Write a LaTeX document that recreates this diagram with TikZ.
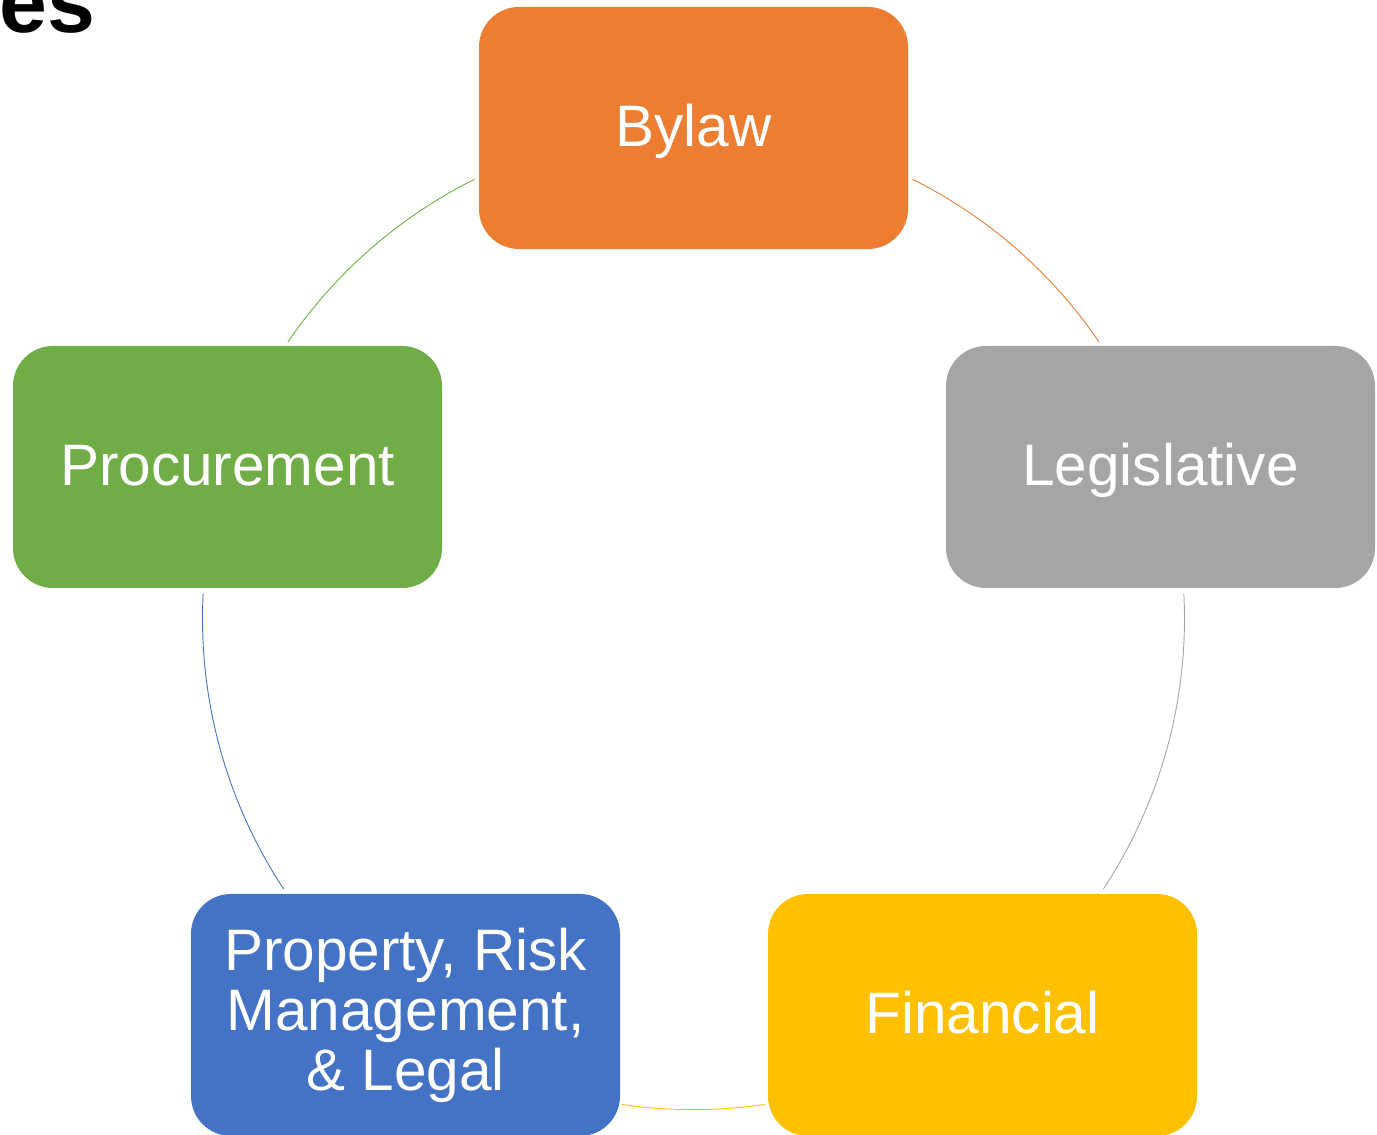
\documentclass[tikz,border=0pt]{standalone}
\usepackage{fontspec}
\setmainfont{Liberation Sans}
\definecolor{cOrange}{HTML}{ED7D31}
\definecolor{cGray}{HTML}{A5A5A5}
\definecolor{cYellow}{HTML}{FFC000}
\definecolor{cBlue}{HTML}{4472C4}
\definecolor{cGreen}{HTML}{70AD47}
\tikzset{
  cyclebox/.style={rectangle, rounded corners=40pt, minimum width=429pt, minimum height=242pt,
    inner sep=0pt, text=white, align=center, font=\fontsize{58.5}{60}\selectfont},
  oneline/.style={text height=44pt, text depth=6pt},
  link/.style={line width=0.9pt}
}
\begin{document}
\begin{tikzpicture}[x=1pt,y=1pt]
\useasboundingbox (0,0) rectangle (1377,1135);
\node[anchor=base west, inner sep=0pt, font=\fontsize{86}{86}\selectfont\bfseries] (title) at (-1,1102) {es};
\coordinate (o) at (693.5,516.3);
\node[cyclebox, oneline, fill=cOrange] (bylaw) at (693.5,1007) {Bylaw};
\node[cyclebox, oneline, fill=cGray] (legis) at (1160.5,668) {Legislative};
\node[cyclebox, oneline, fill=cYellow] (fin) at (982.5,120) {Financial};
\node[cyclebox, fill=cBlue] (prop) at (405.5,120) {Property, Risk\\Management,\\\& Legal};
\node[cyclebox, oneline, fill=cGreen] (proc) at (227.5,668) {Procurement};
\draw[link, cOrange] ([shift={(63.5:491)}]o) arc[start angle=63.5, end angle=34.3, radius=491pt];
\draw[link, cGray] ([shift={(2.9:491)}]o) arc[start angle=2.9, end angle=-33.4, radius=491pt];
\draw[link, cYellow] ([shift={(-81.6:491)}]o) arc[start angle=-81.6, end angle=-98.4, radius=491pt];
\draw[link, cBlue] ([shift={(-146.6:491)}]o) arc[start angle=-146.6, end angle=-182.9, radius=491pt];
\draw[link, cGreen] ([shift={(145.7:491)}]o) arc[start angle=145.7, end angle=116.5, radius=491pt];
\end{tikzpicture}
\end{document}
